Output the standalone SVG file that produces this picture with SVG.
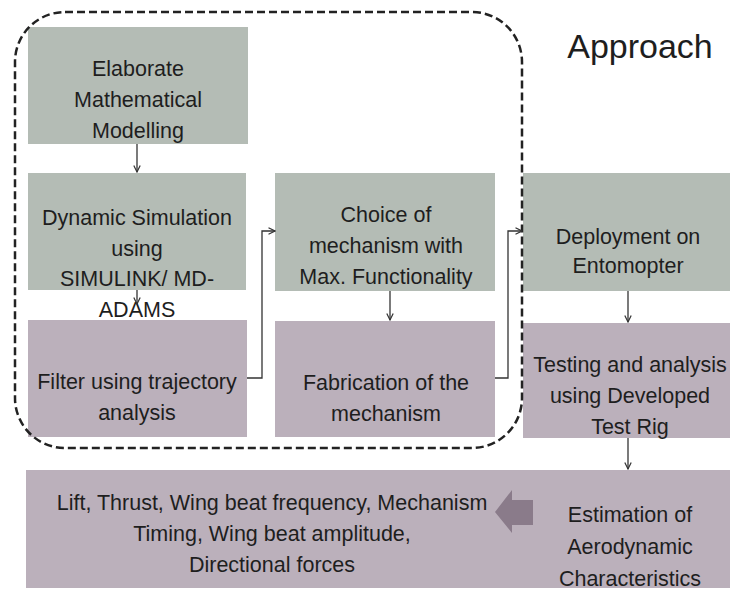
<svg xmlns="http://www.w3.org/2000/svg" width="730" height="590" viewBox="0 0 730 590">
<defs>
<style>
.g{fill:#b4bcb5}
.m{fill:#bbb0bb}
.t{font-family:"Liberation Sans",Arial,sans-serif;font-size:21.5px;fill:#1e1e1e;text-anchor:middle}
.c{fill:none;stroke:#333;stroke-width:1.3}
</style>
<marker id="ah" viewBox="0 0 8 8" refX="7.5" refY="4" markerWidth="8" markerHeight="8" markerUnits="userSpaceOnUse" orient="auto">
<path d="M1,0.8 L7.5,4 L1,7.2" fill="none" stroke="#333" stroke-width="1.2"/>
</marker>
</defs>
<rect width="730" height="590" fill="#ffffff"/>
<g id="n1"><rect class="g" x="28" y="27" width="220" height="117"/>
<text class="t" x="138" y="76">Elaborate</text><text class="t" x="138" y="107">Mathematical</text><text class="t" x="138" y="138">Modelling</text></g>
<g id="n2"><rect class="g" x="28" y="173" width="218" height="117"/>
<text class="t" x="137" y="225">Dynamic Simulation</text><text class="t" x="137" y="256">using</text><text class="t" x="137" y="286">SIMULINK/ MD-</text><text class="t" x="137" y="317">ADAMS</text></g>
<g id="n3"><rect class="m" x="28" y="320" width="219" height="117"/>
<text class="t" x="137" y="389">Filter using trajectory</text><text class="t" x="137" y="420">analysis</text></g>
<g id="n4"><rect class="g" x="275" y="173" width="220" height="118"/>
<text class="t" x="386" y="222">Choice of</text><text class="t" x="386" y="253">mechanism with</text><text class="t" x="386" y="284">Max. Functionality</text></g>
<g id="n5"><rect class="m" x="275" y="321" width="220" height="116"/>
<text class="t" x="386" y="390">Fabrication of the</text><text class="t" x="386" y="421">mechanism</text></g>
<g id="n6"><rect class="g" x="523" y="173" width="207" height="118"/>
<text class="t" x="628" y="244">Deployment on</text><text class="t" x="628" y="273">Entomopter</text></g>
<g id="n7"><rect class="m" x="523" y="323" width="207" height="115"/>
<text class="t" x="630" y="372">Testing and analysis</text><text class="t" x="630" y="403">using Developed</text><text class="t" x="630" y="434">Test Rig</text></g>
<g id="n8"><rect class="m" x="26" y="470" width="704" height="118"/>
<text class="t" x="272" y="510">Lift, Thrust, Wing beat frequency, Mechanism</text><text class="t" x="272" y="541">Timing, Wing beat amplitude,</text><text class="t" x="272" y="572">Directional forces</text>
<text class="t" x="630" y="522">Estimation of</text><text class="t" x="630" y="554">Aerodynamic</text><text class="t" x="630" y="586">Characteristics</text>
<polygon points="495,512 512,490 512,500 533,500 533,525 512,525 512,533" fill="#8a7b8a"/></g>
<g id="group-boundary"><rect x="15" y="12" width="507" height="436" rx="50" ry="50" fill="none" stroke="#222" stroke-width="2.5" stroke-dasharray="8 4"/>
<text x="640" y="58" style="font-family:'Liberation Sans',Arial,sans-serif;font-size:34px;fill:#1e1e1e;text-anchor:middle">Approach</text></g>
<g id="connectors">
<path class="c" d="M137,144 V172" marker-end="url(#ah)"/>
<path class="c" d="M137,290 V304" marker-end="url(#ah)"/>
<path class="c" d="M247,378 H262 V231 H275" marker-end="url(#ah)"/>
<path class="c" d="M390,291 V320" marker-end="url(#ah)"/>
<path class="c" d="M495,378 H508 V231 H522" marker-end="url(#ah)"/>
<path class="c" d="M628,291 V322" marker-end="url(#ah)"/>
<path class="c" d="M628,438 V469" marker-end="url(#ah)"/>
</g>
</svg>
